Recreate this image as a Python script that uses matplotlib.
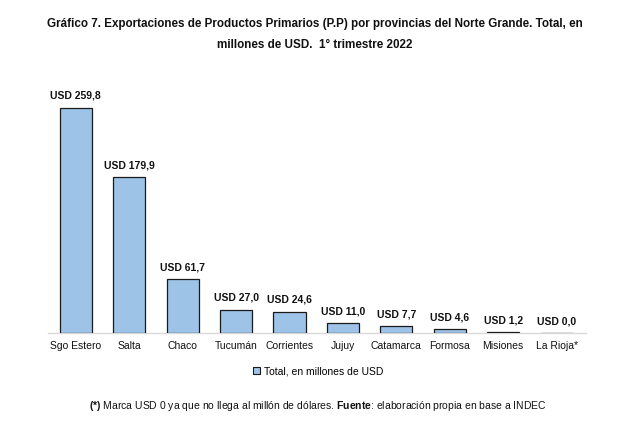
import matplotlib.pyplot as plt
from matplotlib.patches import Patch

plt.rcParams['font.family'] = ['Liberation Sans', 'DejaVu Sans']
plt.rcParams['mathtext.fontset'] = 'custom'
plt.rcParams['mathtext.rm'] = 'Liberation Sans'
plt.rcParams['mathtext.bf'] = 'Liberation Sans:bold'

provincias = ["Sgo Estero", "Salta", "Chaco", "Tucumán", "Corrientes",
              "Jujuy", "Catamarca", "Formosa", "Misiones", "La Rioja*"]
valores = [259.8, 179.9, 61.7, 27.0, 24.6, 11.0, 7.7, 4.6, 1.2, 0.0]
etiquetas = ["USD 259,8", "USD 179,9", "USD 61,7", "USD 27,0", "USD 24,6",
             "USD 11,0", "USD 7,7", "USD 4,6", "USD 1,2", "USD 0,0"]

fig = plt.figure(figsize=(6.29, 4.25), dpi=100)
ax = fig.add_axes([48/629, (425-333)/425, (586-48)/629, (333-85)/425])

x = range(len(provincias))
ax.bar(x, valores, width=0.6, color="#9dc3e6", edgecolor="#1a1a1a", linewidth=0.9, zorder=3)
for i, v in enumerate(valores):
    ax.annotate(etiquetas[i], (i, v), xytext=(0, 5), textcoords="offset points",
                ha="center", va="bottom", fontsize=7.5, fontweight="bold", color="#111111")

ax.set_xlim(-0.52, 9.55)
ax.set_ylim(0, 286)
ax.set_xticks(list(x))
ax.set_xticklabels(provincias, fontsize=7.5, color="#111111")
ax.tick_params(axis="x", length=0, pad=6)
ax.set_yticks([])
for s in ["top", "right", "left"]:
    ax.spines[s].set_visible(False)
ax.spines["bottom"].set_color("#d9d9d9")
ax.spines["bottom"].set_linewidth(1.0)
ax.spines["bottom"].set_zorder(1)

fig.text(0.5, 1 - 24/425, "Gráfico 7. Exportaciones de Productos Primarios (P.P) por provincias del Norte Grande. Total, en",
         ha="center", va="center", fontsize=8.4, fontweight="bold", color="#111111")
fig.text(0.5, 1 - 45/425, "millones de USD.  1° trimestre 2022",
         ha="center", va="center", fontsize=8.4, fontweight="bold", color="#111111")

leg = fig.legend(handles=[Patch(facecolor="#9dc3e6", edgecolor="#1a1a1a", linewidth=0.8)],
                 labels=["Total, en millones de USD"], loc="center", bbox_to_anchor=(318/629, 1 - 371/425),
                 frameon=False, fontsize=7.5, handlelength=0.7, handleheight=0.7, handletextpad=0.3)

fig.text(318/629, 1 - 406/425,
         r"$\bf{(*)}$ Marca USD 0 ya que no llega al millón de dólares. $\bf{Fuente}$: elaboración propia en base a INDEC",
         ha="center", va="center", fontsize=7.5, color="#111111")

fig.savefig("out.png", dpi=100)
